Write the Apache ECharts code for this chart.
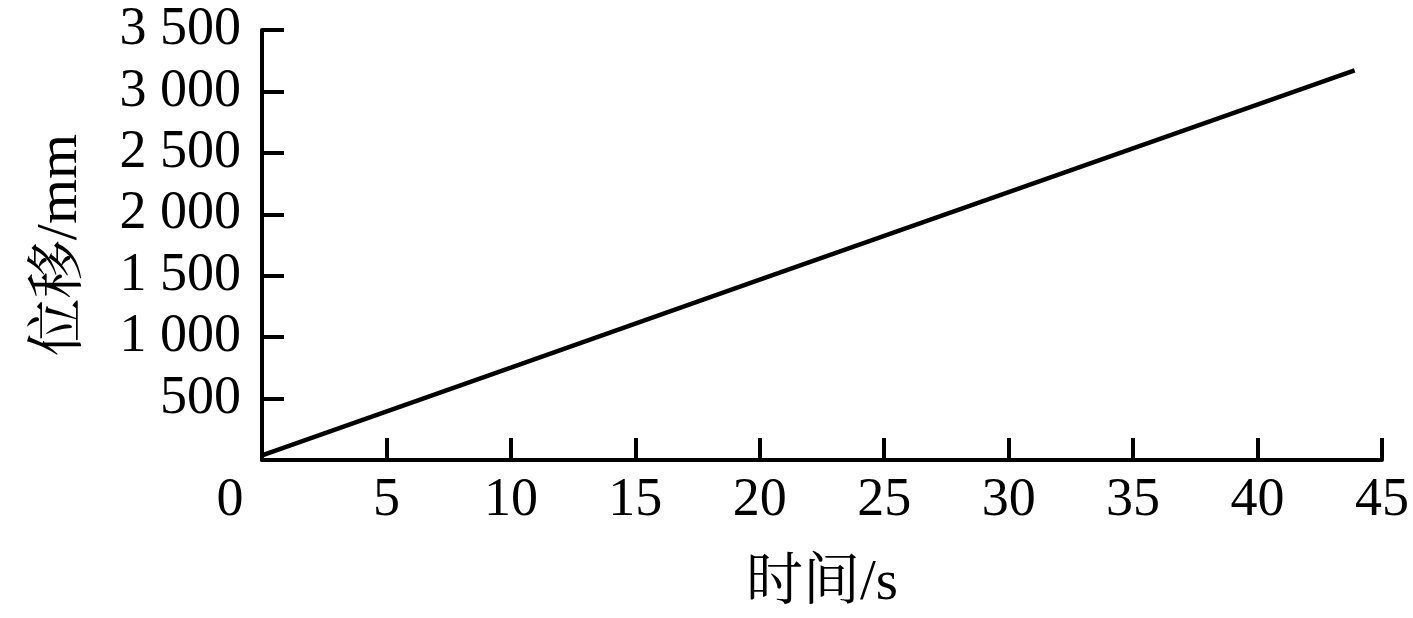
<!DOCTYPE html>
<html><head><meta charset="utf-8">
<script src="https://cdn.jsdelivr.net/npm/echarts@6/dist/echarts.min.js"></script>
<style>html,body{margin:0;padding:0;background:#fff}#c{width:1413px;height:618px}</style>
</head><body><div id="c"></div>
<script>
const timeS = [0, 10, 20, 30, 43.9];
const dispMm = [38, 752, 1468, 2180, 3172];
const xName = '时间/s';
const yName = '位移/mm';
const fontFam = '"Liberation Serif","Noto Serif CJK SC","Noto Sans CJK SC",serif';

const chart = echarts.init(document.getElementById('c'));
chart.setOption({
  animation: false,
  backgroundColor: '#fff',
  grid: {left: 262, right: 31, top: 30, bottom: 156.5, containLabel: false},
  xAxis: {
    type: 'value', min: 0, max: 45, interval: 5,
    name: xName, nameLocation: 'middle', nameGap: 96,
    nameTextStyle: {fontFamily: fontFam, fontSize: 57, color: '#000'},
    axisLine: {lineStyle: {color: '#000', width: 4}},
    axisTick: {inside: true, length: 22, lineStyle: {color: '#000', width: 4}},
    splitLine: {show: false},
    axisLabel: {
      fontFamily: fontFam, fontSize: 54, color: '#000', margin: 14,
      formatter: v => v === 0 ? '{z|0}' : String(v),
      rich: {z: {fontFamily: fontFam, fontSize: 54, color: '#000', padding: [0, 64, 0, 0]}}
    }
  },
  yAxis: {
    type: 'value', min: 0, max: 3500, interval: 500,
    name: yName, nameLocation: 'middle', nameGap: 172,
    nameTextStyle: {fontFamily: fontFam, fontSize: 58, color: '#000'},
    axisLine: {lineStyle: {color: '#000', width: 4}},
    axisTick: {inside: true, length: 22, lineStyle: {color: '#000', width: 4}},
    splitLine: {show: false},
    axisLabel: {
      fontFamily: fontFam, fontSize: 54, color: '#000', margin: 21,
      formatter: v => v === 0 ? '' : (v >= 1000 ? Math.floor(v/1000) + ' ' + String(v % 1000).padStart(3, '0') : String(v))
    }
  },
  series: [{
    type: 'line', showSymbol: false, symbol: 'none',
    data: timeS.map((t, i) => [t, dispMm[i]]),
    lineStyle: {color: '#000', width: 4.5}
  }]
});
</script></body></html>
